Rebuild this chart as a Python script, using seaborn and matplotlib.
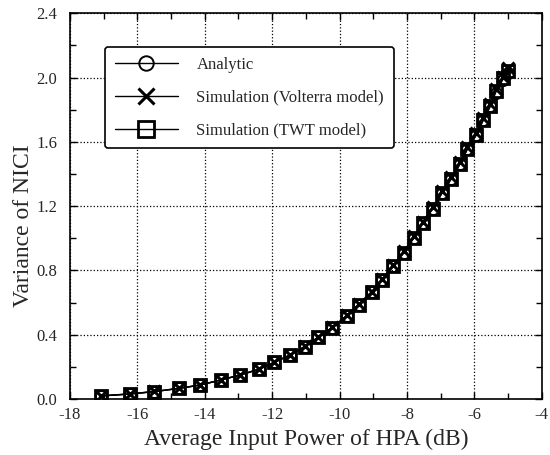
import numpy as np
import pandas as pd
import matplotlib
matplotlib.use("Agg")
import matplotlib.pyplot as plt
import seaborn as sns

# Style
sns.set_style("ticks")
plt.rcParams["font.family"] = ["Liberation Serif", "DejaVu Serif"]
plt.rcParams["xtick.direction"] = "in"
plt.rcParams["ytick.direction"] = "in"

# Data (input power in dB, variance of NICI)
power_db = [-17.08, -16.23, -15.50, -14.76, -14.13, -13.53, -12.95, -12.40,
            -11.93, -11.47, -11.03, -10.63, -10.21, -9.79, -9.42, -9.05,
            -8.74, -8.40, -8.10, -7.79, -7.53, -7.24, -6.95, -6.68,
            -6.42, -6.21, -5.95, -5.74, -5.53, -5.37, -5.16, -5.00]
analytic = [0.019, 0.031, 0.046, 0.066, 0.087, 0.118, 0.149, 0.184,
            0.228, 0.273, 0.325, 0.383, 0.443, 0.516, 0.588, 0.663,
            0.739, 0.828, 0.911, 1.004, 1.095, 1.184, 1.284, 1.371,
            1.464, 1.553, 1.640, 1.733, 1.820, 1.905, 1.985, 2.030]
volterra = [0.020, 0.032, 0.047, 0.067, 0.088, 0.119, 0.150, 0.186,
            0.230, 0.275, 0.328, 0.386, 0.447, 0.520, 0.593, 0.668,
            0.745, 0.834, 0.918, 1.012, 1.104, 1.194, 1.295, 1.383,
            1.477, 1.567, 1.656, 1.750, 1.838, 1.930, 2.005, 2.060]
twt = [0.019, 0.031, 0.046, 0.066, 0.087, 0.118, 0.149, 0.184,
       0.228, 0.273, 0.325, 0.383, 0.443, 0.516, 0.588, 0.663,
       0.739, 0.828, 0.911, 1.004, 1.095, 1.184, 1.284, 1.371,
       1.464, 1.553, 1.640, 1.733, 1.820, 1.915, 1.995, 2.040]

labels = ["Analytic", "Simulation (Volterra model)", "Simulation (TWT model)"]

fig = plt.figure(figsize=(5.5, 4.55), dpi=100)
ax = fig.add_axes([0.127, 0.123, 0.858, 0.848])

sns.lineplot(x=power_db, y=analytic, ax=ax, color="black", lw=1.0,
             marker="o", markersize=8, markerfacecolor="none",
             markeredgecolor="black", markeredgewidth=1.4, label=labels[0])
sns.lineplot(x=power_db, y=volterra, ax=ax, color="black", lw=1.0,
             marker="x", markersize=9, markeredgecolor="black",
             markeredgewidth=2.2, label=labels[1])
sns.lineplot(x=power_db, y=twt, ax=ax, color="black", lw=1.0,
             marker="s", markersize=9, markerfacecolor="none",
             markeredgecolor="black", markeredgewidth=2.0, label=labels[2])

ax.set_xlim(-18, -4)
ax.set_ylim(0, 2.4)
ax.set_xticks(np.arange(-18, -3, 2))
ax.set_xticks(np.arange(-17, -4, 2), minor=True)
ax.set_yticks(np.arange(0, 2.41, 0.4))
ax.set_yticks(np.arange(0.2, 2.4, 0.4), minor=True)
ax.set_xticklabels([f"{v:d}" for v in range(-18, -3, 2)])
ax.set_yticklabels([f"{v:.1f}" for v in np.arange(0, 2.41, 0.4)])
ax.tick_params(which="both", top=True, right=True, labelsize=12,
               color="black", width=1.0)
ax.tick_params(axis="x", which="major", length=5, pad=6)
ax.tick_params(axis="y", which="major", length=5, pad=9)
ax.tick_params(which="minor", length=4)
for s in ax.spines.values():
    s.set_color("black")
    s.set_linewidth(1.2)

ax.grid(True, which="major", linestyle=":", color="black", linewidth=0.9)

ax.set_xlabel("Average Input Power of HPA (dB)", fontsize=17, labelpad=4)
ax.set_ylabel("Variance of NICI", fontsize=17)
ax.yaxis.set_label_coords(-0.075, 0.45)

leg = ax.legend(loc="upper left", bbox_to_anchor=(0.074, 0.912),
                borderaxespad=0, frameon=True, fancybox=True,
                handlelength=3.8, markerscale=1.3, fontsize=12,
                labelspacing=1.0, handletextpad=1.1, borderpad=0.6)
leg.get_frame().set_edgecolor("black")
leg.get_frame().set_linewidth(1.2)
leg.get_frame().set_alpha(1)

fig.savefig("out.png", dpi=100)
